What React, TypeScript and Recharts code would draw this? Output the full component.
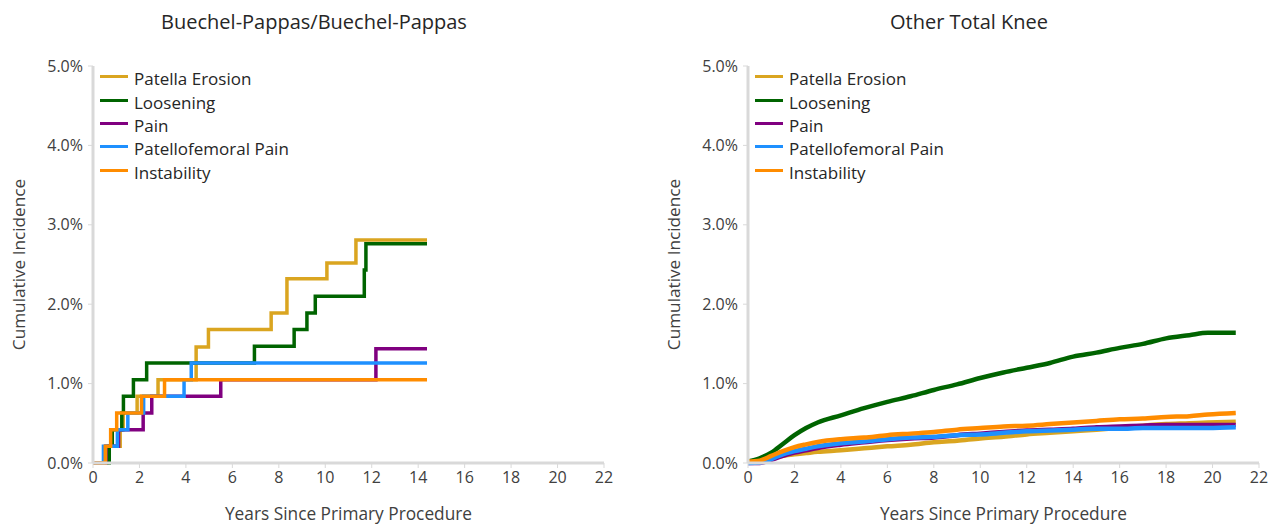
import React from "react";
import { Legend, Line, LineChart, XAxis, YAxis } from "recharts";

// Buechel-Pappas/Buechel-Pappas: step curves, each series has its own event times
const bpErosionYears = [0, 0.6, 1.17, 1.3, 1.9, 2.8, 4.44, 4.97, 7.67, 8.35, 10.07, 11.32, 14.38];
const bpErosionValues = [0, 0.21, 0.42, 0.63, 0.84, 1.05, 1.46, 1.68, 1.89, 2.32, 2.52, 2.81, 2.81];
const bpLooseningYears = [0, 0.7, 0.83, 1.24, 1.31, 1.74, 2.31, 6.95, 8.66, 9.21, 9.57, 11.68, 11.75, 14.38];
const bpLooseningValues = [0, 0.21, 0.42, 0.63, 0.84, 1.05, 1.26, 1.47, 1.68, 1.89, 2.1, 2.43, 2.76, 2.76];
const bpPainYears = [0, 0.55, 1.1, 2.16, 2.53, 5.5, 12.18, 14.38];
const bpPainValues = [0, 0.21, 0.42, 0.63, 0.84, 1.05, 1.44, 1.44];
const bpPatellofemoralYears = [0, 0.45, 1.05, 1.5, 2.18, 3.92, 4.23, 14.38];
const bpPatellofemoralValues = [0, 0.21, 0.42, 0.63, 0.84, 1.05, 1.26, 1.26];
const bpInstabilityYears = [0, 0.53, 0.76, 1.02, 2.09, 3.08, 14.38];
const bpInstabilityValues = [0, 0.21, 0.42, 0.63, 0.84, 1.05, 1.05];

// Other Total Knee: read at these years
const otkYears = [0, 0.5, 1, 1.5, 2, 2.5, 3, 4, 5, 6, 7, 8, 9, 10, 11, 12, 13, 14, 15, 16, 17, 18, 19, 19.8, 21];
const otkErosion = [0.02, 0.025, 0.06, 0.09, 0.11, 0.125, 0.14, 0.16, 0.185, 0.21, 0.23, 0.26, 0.28, 0.31, 0.33, 0.36, 0.38, 0.4, 0.42, 0.445, 0.47, 0.49, 0.5, 0.51, 0.52];
const otkLoosening = [0.02, 0.06, 0.13, 0.24, 0.35, 0.44, 0.51, 0.6, 0.69, 0.77, 0.84, 0.92, 0.99, 1.07, 1.14, 1.2, 1.26, 1.34, 1.39, 1.45, 1.5, 1.57, 1.61, 1.64, 1.64];
const otkPain = [0, 0, 0.04, 0.09, 0.13, 0.16, 0.19, 0.23, 0.26, 0.29, 0.31, 0.32, 0.35, 0.37, 0.39, 0.41, 0.42, 0.43, 0.45, 0.46, 0.47, 0.48, 0.48, 0.48, 0.48];
const otkPatellofemoral = [0, 0.005, 0.05, 0.11, 0.15, 0.18, 0.21, 0.25, 0.27, 0.3, 0.32, 0.33, 0.35, 0.36, 0.38, 0.4, 0.41, 0.42, 0.43, 0.43, 0.44, 0.44, 0.44, 0.44, 0.45];
const otkInstability = [0.02, 0.03, 0.09, 0.15, 0.2, 0.235, 0.265, 0.3, 0.32, 0.35, 0.37, 0.39, 0.42, 0.44, 0.46, 0.47, 0.49, 0.51, 0.53, 0.55, 0.56, 0.58, 0.59, 0.61, 0.63];

const seriesNames = ["Patella Erosion", "Loosening", "Pain", "Patellofemoral Pain", "Instability"];
const seriesColors = ["#DAA520", "#006400", "#800080", "#1E90FF", "#FF8C00"];
const xTicks = [0, 2, 4, 6, 8, 10, 12, 14, 16, 18, 20, 22];
const yTicks = [0, 1, 2, 3, 4, 5];

const AXIS = "#d9d9d9";
const TEXT = "#404040";
const FONT = "'Open Sans', sans-serif";

const toPoints = (xs: number[], ys: number[]) => xs.map((x, i) => ({ x, y: ys[i] }));

const bpSeries = [
  toPoints(bpErosionYears, bpErosionValues),
  toPoints(bpLooseningYears, bpLooseningValues),
  toPoints(bpPainYears, bpPainValues),
  toPoints(bpPatellofemoralYears, bpPatellofemoralValues),
  toPoints(bpInstabilityYears, bpInstabilityValues),
];
const otkSeries = [otkErosion, otkLoosening, otkPain, otkPatellofemoral, otkInstability].map((v) =>
  toPoints(otkYears, v)
);

// keep legend in series order (recharts sorts by name otherwise)
function LegendBox(props: any) {
  const items = [...(props.payload || [])].sort(
    (a: any, b: any) => seriesNames.indexOf(a.value) - seriesNames.indexOf(b.value)
  );
  return (
    <div style={{ display: "flex", flexDirection: "column" }}>
      {items.map((p: any) => (
        <div key={p.value} style={{ display: "flex", alignItems: "center", height: 23.4 }}>
          <span style={{ display: "inline-block", width: 28, height: 3, background: p.color, marginRight: 6 }} />
          <span style={{ fontSize: 17, color: "#262626", whiteSpace: "nowrap", position: "relative", top: 2 }}>
            {p.value}
          </span>
        </div>
      ))}
    </div>
  );
}

function Panel({ title, series, type, strokeWidth, left }: any) {
  return (
    <div style={{ position: "absolute", left, top: 0, width: 640, height: 529, fontFamily: FONT }}>
      <div
        style={{
          position: "absolute",
          left: 0,
          width: 628,
          top: 8,
          textAlign: "center",
          fontSize: 20,
          color: "#262626",
        }}
      >
        {title}
      </div>
      <LineChart width={640} height={529} margin={{ top: 66, right: 36, bottom: 6, left: 0 }}>
        <XAxis
          type="number"
          dataKey="x"
          domain={[0, 22]}
          ticks={xTicks}
          interval={0}
          height={60}
          axisLine={{ stroke: AXIS, strokeWidth: 3 }}
          tickLine={{ stroke: AXIS }}
          tickSize={5}
          tickMargin={4}
          tick={{ fill: TEXT, fontSize: 16 }}
          label={{
            content: (p: any) => {
              const vb = p.viewBox;
              return (
                <text x={vb.x + vb.width / 2} y={513} textAnchor="middle" dominantBaseline="central" fill={TEXT} fontSize={17.3}>
                  Years Since Primary Procedure
                </text>
              );
            },
          }}
        />
        <YAxis
          type="number"
          domain={[0, 5]}
          ticks={yTicks}
          interval={0}
          width={93}
          axisLine={{ stroke: AXIS, strokeWidth: 3 }}
          tickLine={{ stroke: AXIS }}
          tickSize={5}
          tickMargin={5}
          tickFormatter={(v: number) => v.toFixed(1) + "%"}
          tick={{ fill: TEXT, fontSize: 16 }}
          label={{
            content: (p: any) => {
              const vb = p.viewBox;
              const cx = 18;
              const cy = vb.y + vb.height / 2;
              return (
                <text
                  x={cx}
                  y={cy}
                  transform={`rotate(-90 ${cx} ${cy})`}
                  textAnchor="middle"
                  dominantBaseline="central"
                  fill={TEXT}
                  fontSize={17.2}
                >
                  Cumulative Incidence
                </text>
              );
            },
          }}
        />
        <Legend
          layout="vertical"
          align="center"
          verticalAlign="middle"
          content={<LegendBox />}
          wrapperStyle={{ left: 100, top: 65, width: "auto" }}
        />
        {series.map((d: any, i: number) => (
          <Line
            key={seriesNames[i]}
            data={d}
            dataKey="y"
            name={seriesNames[i]}
            type={type}
            stroke={seriesColors[i]}
            strokeWidth={strokeWidth}
            dot={false}
            activeDot={false}
            isAnimationActive={false}
          />
        ))}
      </LineChart>
    </div>
  );
}

export default function App() {
  return (
    <div style={{ position: "absolute", left: 0, top: 0, width: 1279, height: 529, background: "#fff" }}>
      <Panel title="Buechel-Pappas/Buechel-Pappas" series={bpSeries} type="stepAfter" strokeWidth={3.5} left={0} />
      <Panel title="Other Total Knee" series={otkSeries} type="monotone" strokeWidth={4.5} left={655} />
    </div>
  );
}
